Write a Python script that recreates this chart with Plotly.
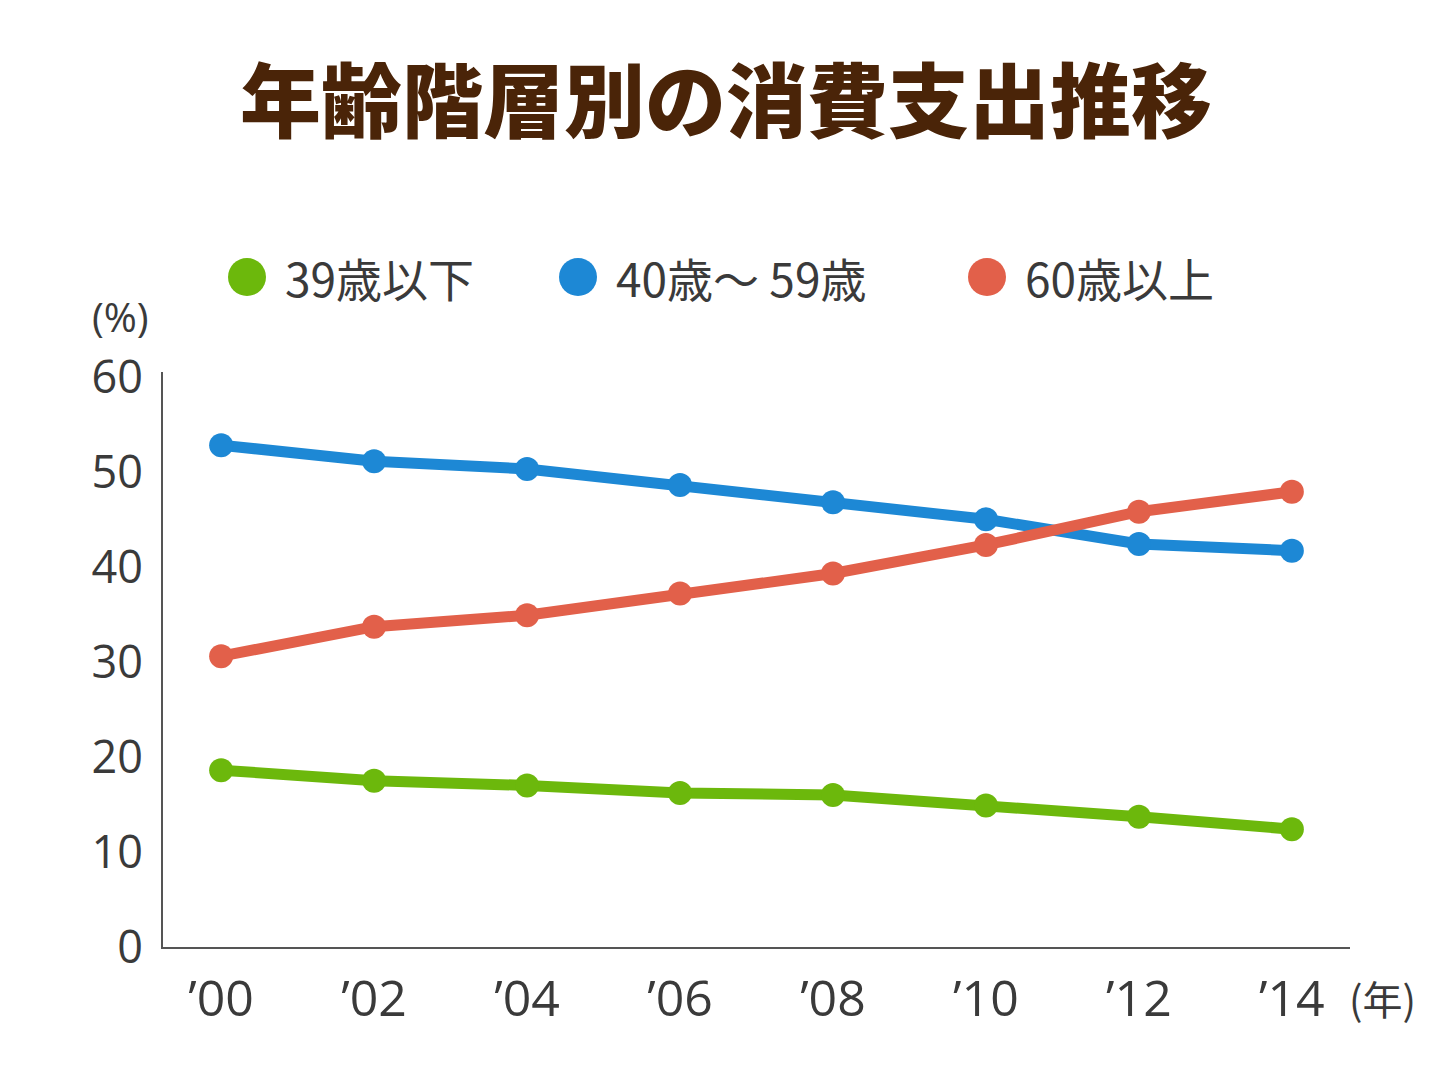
import plotly.graph_objects as go

years = [2000, 2002, 2004, 2006, 2008, 2010, 2012, 2014]
year_labels = ["’00", "’02", "’04", "’06", "’08", "’10", "’12", "’14"]
under39 = [18.6, 17.5, 17.0, 16.2, 16.0, 14.9, 13.7, 12.4]
age40_59 = [52.8, 51.1, 50.3, 48.6, 46.8, 45.0, 42.4, 41.7]
over60 = [30.6, 33.7, 34.9, 37.2, 39.3, 42.3, 45.8, 47.9]
series_names = ["39歳以下", "40歳～ 59歳", "60歳以上"]
series_values = [under39, age40_59, over60]
colors = ["#6cb80c", "#1d88d5", "#e2604a"]
y_ticks = [0, 10, 20, 30, 40, 50, 60]

W, H = 1452, 1089
ml, mr, mt, mb = 163, 102, 372, 142

fig = go.Figure()
for name, vals, c in zip(series_names, series_values, colors):
    fig.add_trace(go.Scatter(
        x=years, y=vals, mode="lines+markers", name=name,
        line=dict(color=c, width=11),
        marker=dict(color=c, size=24),
        showlegend=False, hoverinfo="skip"))

text_color = "#3a3a3a"
fig.update_layout(
    width=W, height=H,
    margin=dict(l=ml, r=mr, t=mt, b=mb),
    paper_bgcolor="white", plot_bgcolor="white",
    font=dict(family="Open Sans", color=text_color),
    xaxis=dict(
        range=[1999.24, 2014.76], tickmode="array", tickvals=years,
        ticktext=year_labels, showgrid=False, zeroline=False,
        showline=True, linecolor="#555555", linewidth=2,
        ticks="", ticklabelstandoff=7,
        tickfont=dict(family="Open Sans", size=50, color=text_color)),
    yaxis=dict(
        range=[0, 60.5], tickmode="array", tickvals=y_ticks,
        showgrid=False, zeroline=False,
        showline=True, linecolor="#555555", linewidth=2,
        ticks="", ticklabelstandoff=9,
        tickfont=dict(family="Open Sans", size=45, color=text_color)),
    title=dict(text="年齢階層別の消費支出推移", x=0.5, xanchor="center",
               y=1 - 103 / H, yanchor="middle",
               font=dict(family="Noto Sans CJK JP", size=81, weight=900, color="#4a2408")),
)

# legend drawn as circles + labels in paper coordinates
legend_x = [247, 578, 987]
legend_y = 277
r = 19
for lx, name, c in zip(legend_x, series_names, colors):
    fig.add_shape(type="circle", xref="paper", yref="paper",
                  x0=(lx - r - ml) / (W - ml - mr), x1=(lx + r - ml) / (W - ml - mr),
                  y0=(H - mb - (legend_y + r)) / (H - mt - mb),
                  y1=(H - mb - (legend_y - r)) / (H - mt - mb),
                  fillcolor=c, line=dict(width=0))
    fig.add_annotation(text=name, xref="paper", yref="paper",
                       x=(lx + 36 - ml) / (W - ml - mr),
                       y=(H - mb - legend_y) / (H - mt - mb),
                       xanchor="left", yanchor="middle", showarrow=False,
                       font=dict(family="Noto Sans CJK JP", size=46, color=text_color))

fig.add_annotation(text="(%)", xref="paper", yref="paper",
                   x=(120 - ml) / (W - ml - mr), y=(H - mb - 316) / (H - mt - mb),
                   xanchor="center", yanchor="middle", showarrow=False,
                   font=dict(family="Open Sans", size=40, color=text_color))
fig.add_annotation(text="(年)", xref="paper", yref="paper",
                   x=(1382 - ml) / (W - ml - mr), y=(H - mb - 998) / (H - mt - mb),
                   xanchor="center", yanchor="middle", showarrow=False,
                   font=dict(family="Noto Sans CJK JP", size=40, color=text_color))

fig.write_html("out.html")
